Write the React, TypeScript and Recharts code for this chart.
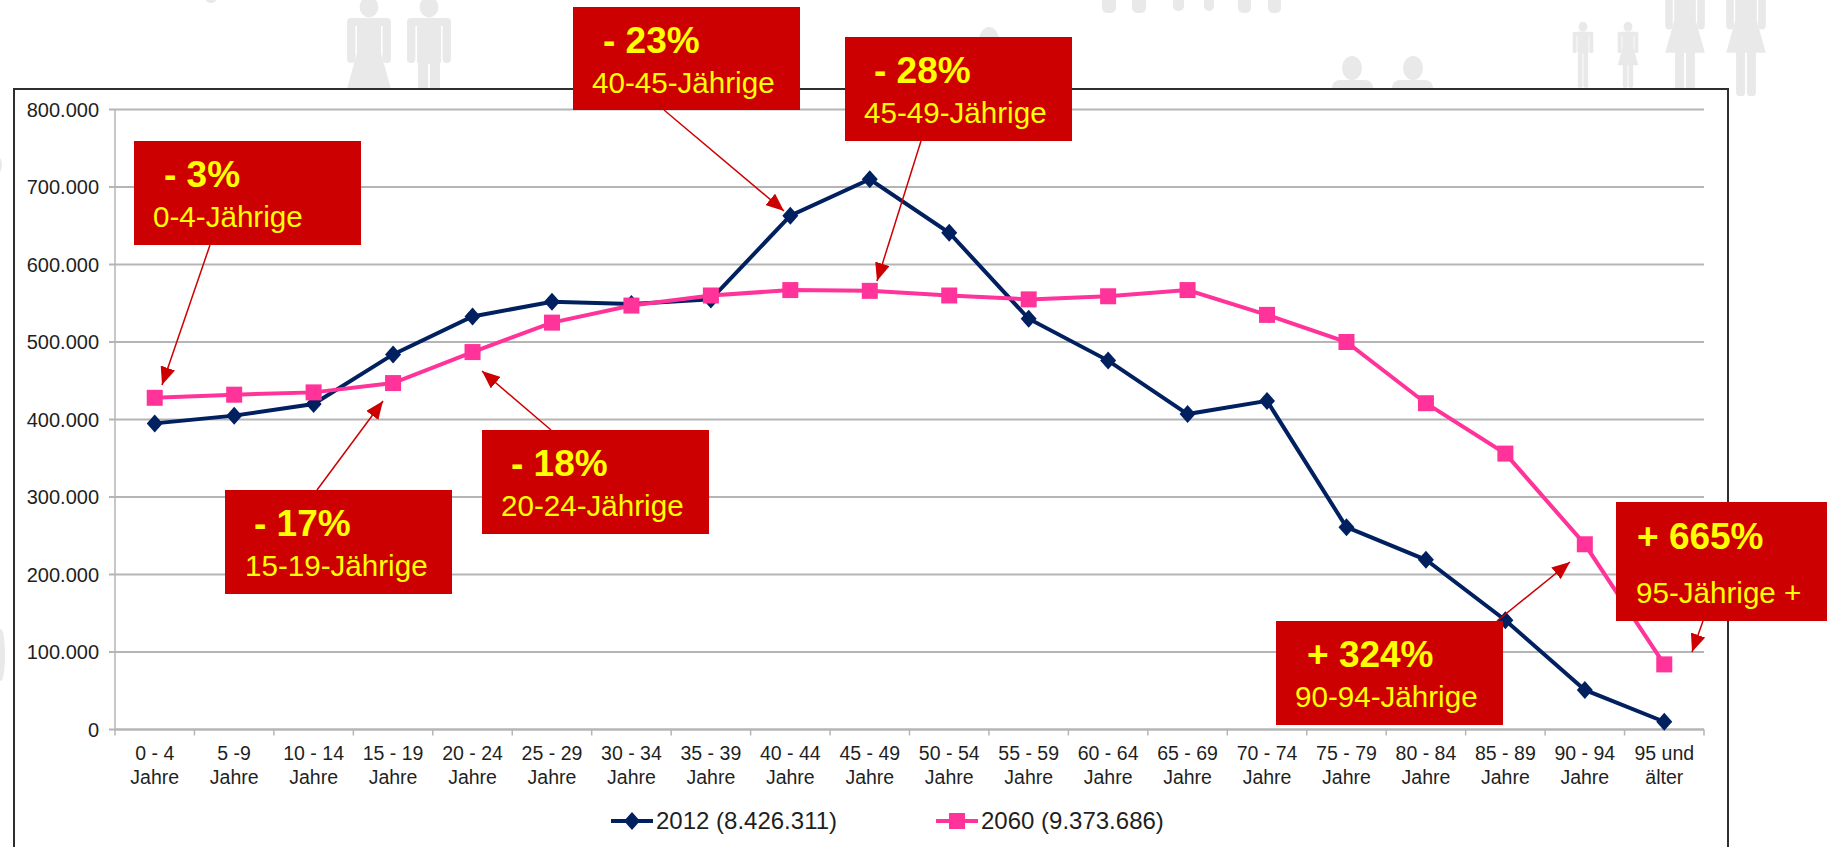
import { CartesianGrid, Legend, Line, LineChart, XAxis, YAxis } from 'recharts'

const ageLine1 = ['0 - 4', '5 -9', '10 - 14', '15 - 19', '20 - 24', '25 - 29', '30 - 34', '35 - 39', '40 - 44', '45 - 49', '50 - 54', '55 - 59', '60 - 64', '65 - 69', '70 - 74', '75 - 79', '80 - 84', '85 - 89', '90 - 94', '95 und']
const ageLine2 = ['Jahre', 'Jahre', 'Jahre', 'Jahre', 'Jahre', 'Jahre', 'Jahre', 'Jahre', 'Jahre', 'Jahre', 'Jahre', 'Jahre', 'Jahre', 'Jahre', 'Jahre', 'Jahre', 'Jahre', 'Jahre', 'Jahre', 'älter']
const values2012 = [395000, 405000, 420000, 484000, 533000, 552000, 549000, 555000, 663000, 710000, 641000, 530000, 476000, 407000, 424000, 261000, 219000, 141000, 51000, 10000]
const values2060 = [428000, 432000, 435000, 447000, 487000, 525000, 547000, 560000, 567000, 566000, 560000, 555000, 559000, 567000, 535000, 500000, 421000, 356000, 239000, 84000]
const yTicks = [0, 100000, 200000, 300000, 400000, 500000, 600000, 700000, 800000]

const name2012 = '2012 (8.426.311)'
const name2060 = '2060 (9.373.686)'

const calloutTitles = ['- 3%', '- 23%', '- 28%', '- 17%', '- 18%', '+ 324%', '+ 665%']
const calloutAges = ['0-4-Jährige', '40-45-Jährige', '45-49-Jährige', '15-19-Jährige', '20-24-Jährige', '90-94-Jährige', '95-Jährige +']

// box x/y/w/h, title x/baseline, sub x/baseline, arrow from/to
const calloutLayout = [
  { box: [134, 141, 227, 104], title: [164, 187], sub: [153, 227], arrow: [210, 245, 162, 385] },
  { box: [573, 7, 227, 103], title: [603, 53], sub: [592, 93], arrow: [664, 110, 784, 211] },
  { box: [845, 37, 227, 104], title: [874, 83], sub: [864, 123], arrow: [921, 141, 877, 281] },
  { box: [225, 490, 227, 104], title: [254, 536], sub: [245, 576], arrow: [317, 490, 383, 401] },
  { box: [482, 430, 227, 104], title: [511, 476], sub: [501, 516], arrow: [551, 430, 482, 371] },
  { box: [1276, 621, 227, 104], title: [1307, 667], sub: [1295, 707], arrow: [1497, 621, 1570, 562] },
  { box: [1616, 502, 211, 119], title: [1637, 549], sub: [1636, 603], arrow: [1703, 621, 1692, 652] },
]

const NAVY = '#002060'
const PINK = '#FF3399'
const RED = '#CC0000'
const YELLOW = '#FFFF00'
const GRID = '#B5B5B5'
const TEXT = '#1F1F1F'
const GHOST = '#E9E9E9'
const FONT = '"Liberation Sans", Arial, sans-serif'

const PLOT_LEFT = 115
const PLOT_RIGHT = 1704
const PLOT_TOP = 109.5
const PLOT_BOTTOM = 729.5
const BAND = (PLOT_RIGHT - PLOT_LEFT) / ageLine1.length

const chartData = ageLine1.map((age, i) => ({
  age,
  y2012: values2012[i],
  y2060: values2060[i],
}))

const nf = new Intl.NumberFormat('de-DE')

function Diamond({ cx, cy }: { cx?: number; cy?: number }) {
  if (cx == null || cy == null) return null
  return <path d={`M${cx} ${cy - 9}L${cx + 8} ${cy}L${cx} ${cy + 9}L${cx - 8} ${cy}Z`} fill={NAVY} />
}

function Square({ cx, cy }: { cx?: number; cy?: number }) {
  if (cx == null || cy == null) return null
  return <rect x={cx - 8} y={cy - 8} width={16} height={16} fill={PINK} />
}

function AgeTick({ x, payload, index }: any) {
  const i = payload?.index ?? index
  const left = x - BAND / 2
  const base = PLOT_BOTTOM
  return (
    <g>
      <line x1={left} x2={left} y1={base} y2={base + 6} stroke={GRID} strokeWidth={1.5} />
      {i === ageLine1.length - 1 && (
        <line x1={left + BAND} x2={left + BAND} y1={base} y2={base + 6} stroke={GRID} strokeWidth={1.5} />
      )}
      <text x={x} y={base + 30} textAnchor="middle" fontSize={19.5} fontFamily={FONT} fill={TEXT}>
        {ageLine1[i]}
      </text>
      <text x={x} y={base + 54} textAnchor="middle" fontSize={19.5} fontFamily={FONT} fill={TEXT}>
        {ageLine2[i]}
      </text>
    </g>
  )
}

function LegendContent() {
  const item = (label: string, color: string, isDiamond: boolean, gap: number) => (
    <div style={{ position: 'absolute', left: gap, top: 0, height: 28, width: 240 }}>
      <svg width={44} height={28} style={{ position: 'absolute', left: 0, top: 0 }}>
        <line x1={0} x2={42} y1={14} y2={14} stroke={color} strokeWidth={4} />
        {isDiamond ? (
          <path d="M21 5L29 14L21 23L13 14Z" fill={color} />
        ) : (
          <rect x={13} y={6} width={16} height={16} fill={color} />
        )}
      </svg>
      <span style={{ position: 'absolute', left: 45, top: 0, fontSize: 24, lineHeight: '28px', fontFamily: FONT, color: TEXT, whiteSpace: 'nowrap' }}>
        {label}
      </span>
    </div>
  )
  return (
    <div style={{ position: 'relative', width: 600, height: 28 }}>
      {item(name2012, NAVY, true, 0)}
      {item(name2060, PINK, false, 325)}
    </div>
  )
}

function Person({ cx, top, u, woman }: { cx: number; top: number; u: number; woman?: boolean }) {
  const armW = 0.42 * u
  return (
    <g fill={GHOST}>
      <ellipse cx={cx} cy={top + 0.5 * u} rx={0.47 * u} ry={0.52 * u} />
      <rect x={cx - 0.6 * u} y={top + 1.05 * u} width={1.2 * u} height={2.3 * u} rx={0.15 * u} />
      <rect x={cx - 1.1 * u} y={top + 1.05 * u} width={armW} height={2.25 * u} rx={0.2 * u} />
      <rect x={cx + 1.1 * u - armW} y={top + 1.05 * u} width={armW} height={2.25 * u} rx={0.2 * u} />
      <rect x={cx - 0.9 * u} y={top + 1.05 * u} width={1.8 * u} height={0.4 * u} rx={0.15 * u} />
      {woman && (
        <path d={`M${cx - 0.6 * u} ${top + 2.8 * u}L${cx + 0.6 * u} ${top + 2.8 * u}L${cx + 1.1 * u} ${top + 4.6 * u}L${cx - 1.1 * u} ${top + 4.6 * u}Z`} />
      )}
      <rect x={cx - 0.55 * u} y={top + 3.2 * u} width={0.5 * u} height={3.8 * u} rx={0.2 * u} />
      <rect x={cx + 0.05 * u} y={top + 3.2 * u} width={0.5 * u} height={3.8 * u} rx={0.2 * u} />
    </g>
  )
}

function Backdrop() {
  const legs = [[1102, 14, 13], [1132, 14, 13], [1173, 11, 11], [1204, 10, 11], [1238, 13, 13], [1268, 13, 13]]
  return (
    <svg width={1827} height={847} style={{ position: 'absolute', left: 0, top: 0 }}>
      <Person cx={369} top={-3} u={20} woman />
      <Person cx={429} top={-3} u={20} />
      <Person cx={1583} top={22} u={9.4} />
      <Person cx={1628} top={22} u={9.4} woman />
      <Person cx={1685} top={-30} u={18} woman />
      <Person cx={1746} top={-30} u={18} woman />
      <ellipse cx={989} cy={40} rx={10} ry={13} fill={GHOST} />
      <ellipse cx={1352} cy={68} rx={10} ry={12} fill={GHOST} />
      <ellipse cx={1413} cy={68} rx={10} ry={12} fill={GHOST} />
      <rect x={1332} y={80} width={41} height={20} rx={8} fill={GHOST} />
      <rect x={1392} y={80} width={41} height={20} rx={8} fill={GHOST} />
      {legs.map(([x, w, h]) => (
        <rect key={x} x={x} y={-6} width={w} height={h + 6} rx={5} fill={GHOST} />
      ))}
      <ellipse cx={211} cy={0} rx={5} ry={3} fill={GHOST} />
      <ellipse cx={-2} cy={165} rx={4} ry={8} fill={GHOST} />
      <ellipse cx={1} cy={655} rx={4} ry={26} fill={GHOST} />
    </svg>
  )
}

function Callouts() {
  return (
    <svg width={1827} height={847} style={{ position: 'absolute', left: 0, top: 0 }}>
      <defs>
        <marker id="head" markerUnits="userSpaceOnUse" markerWidth={18} markerHeight={15} refX={18} refY={7.5} orient="auto">
          <path d="M0 0L18 7.5L0 15Z" fill={RED} />
        </marker>
      </defs>
      {calloutLayout.map((c, i) => (
        <line key={i} x1={c.arrow[0]} y1={c.arrow[1]} x2={c.arrow[2]} y2={c.arrow[3]} stroke={RED} strokeWidth={1.5} markerEnd="url(#head)" />
      ))}
      {calloutLayout.map((c, i) => (
        <g key={i}>
          <rect x={c.box[0]} y={c.box[1]} width={c.box[2]} height={c.box[3]} fill={RED} />
          <text x={c.title[0]} y={c.title[1]} fontSize={37} fontWeight={700} fontFamily={FONT} fill={YELLOW}>
            {calloutTitles[i]}
          </text>
          <text x={c.sub[0]} y={c.sub[1]} fontSize={29.6} fontFamily={FONT} fill={YELLOW}>
            {calloutAges[i]}
          </text>
        </g>
      ))}
    </svg>
  )
}

export default function App() {
  return (
    <div style={{ position: 'absolute', left: 0, top: 0, width: 1827, height: 847, overflow: 'hidden', background: '#fff' }}>
      <Backdrop />
      <div style={{ position: 'absolute', left: 13, top: 88, width: 1712, height: 780, background: '#fff', border: '2px solid #2E2E2E', boxSizing: 'content-box' }} />
      <div style={{ position: 'absolute', left: 0, top: 0 }}>
        <LineChart
          width={1827}
          height={847}
          data={chartData}
          margin={{ top: PLOT_TOP, right: 1827 - PLOT_RIGHT, bottom: 0, left: 0 }}
        >
          <CartesianGrid horizontal vertical={false} stroke={GRID} strokeWidth={2} />
          <XAxis
            dataKey="age"
            scale="band"
            interval={0}
            height={847 - PLOT_BOTTOM}
            tickLine={false}
            axisLine={{ stroke: GRID, strokeWidth: 2 }}
            tick={<AgeTick />}
          />
          <YAxis
            width={PLOT_LEFT}
            domain={[0, 800000]}
            ticks={yTicks}
            interval={0}
            tickSize={6}
            tickMargin={10}
            tickFormatter={(v: number) => nf.format(v)}
            tickLine={{ stroke: GRID, strokeWidth: 2 }}
            axisLine={{ stroke: GRID, strokeWidth: 1.5 }}
            tick={{ fontSize: 20, fontFamily: FONT, fill: TEXT }}
          />
          <Legend
            layout="horizontal"
            verticalAlign="middle"
            align="center"
            content={<LegendContent />}
            wrapperStyle={{ position: 'absolute', left: 611, top: 807, width: 600, height: 28 }}
          />
          <Line
            dataKey="y2012"
            name={name2012}
            stroke={NAVY}
            strokeWidth={4}
            dot={(p: any) => <Diamond key={p.index} cx={p.cx} cy={p.cy} />}
            isAnimationActive={false}
          />
          <Line
            dataKey="y2060"
            name={name2060}
            stroke={PINK}
            strokeWidth={4}
            dot={(p: any) => <Square key={p.index} cx={p.cx} cy={p.cy} />}
            isAnimationActive={false}
          />
        </LineChart>
      </div>
      <Callouts />
    </div>
  )
}
